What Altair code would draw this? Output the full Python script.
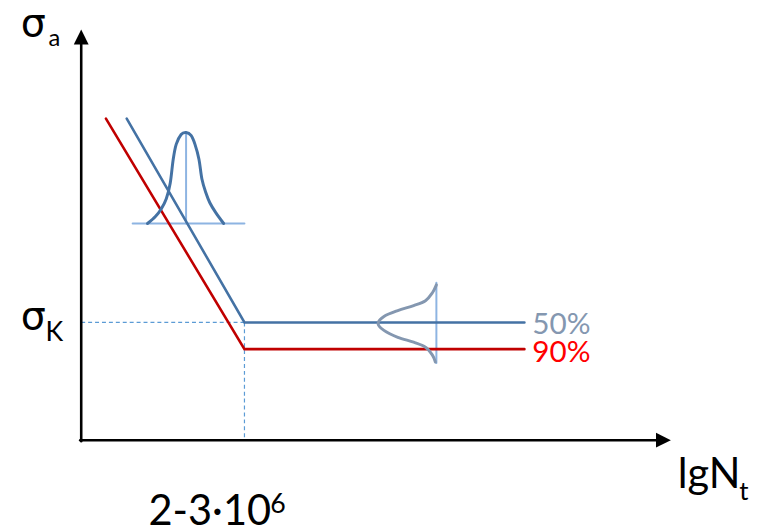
import altair as alt
import pandas as pd

# Schematic S-N (Wöhler) curve; coordinates in schematic units (origin at the axes' corner)
blue_x = [46, 165, 448]
blue_y = [325, 119, 119]
red_x = [25, 165, 448]
red_y = [325, 92, 92]

# fatigue-limit guides
guide_h_x = [0, 165]
guide_h_y = [119, 119]
guide_v_x = [165, 165]
guide_v_y = [119, 0]

# distribution on the sloped part (bell pointing up)
d1_x = [67, 75, 81, 86, 90, 93, 96, 101, 106, 111, 115, 119, 122, 126, 130, 136, 144]
d1_y = [219, 226, 234, 244, 260, 284, 299, 309, 311, 308, 299, 284, 264, 250, 240, 230, 219]
d1_base_x = [52, 165]
d1_base_y = [219, 219]
d1_stem_x = [106, 106]
d1_stem_y = [219, 311]

# distribution on the horizontal part (bell pointing left)
d2_x = [359, 355, 348, 336, 320, 306, 300, 306, 320, 336, 348, 355, 358]
d2_y = [157, 149, 141, 136, 131, 125, 118, 111, 104, 99, 94, 86, 79]
d2_stem_x = [359, 359]
d2_stem_y = [159, 78]

# axes
yaxis_x = [0, 0]
yaxis_y = [-1, 400]
xaxis_x = [-1, 581]
xaxis_y = [0, 0]

FONT = "Lato"
GREEK = "DejaVu Sans"

xs = alt.Scale(domain=[-74, 677], nice=False, zero=False)
ys = alt.Scale(domain=[-90, 434], nice=False, zero=False)


def seg(xv, yv, color, width, dash=None, interp="linear"):
    df = pd.DataFrame({"x": xv, "y": yv, "o": list(range(len(xv)))})
    kw = dict(color=color, strokeWidth=width, interpolate=interp, strokeCap="round")
    if dash:
        kw["strokeDash"] = dash
        kw["strokeCap"] = "butt"
    return alt.Chart(df).mark_line(**kw).encode(
        x=alt.X("x:Q", scale=xs, axis=None),
        y=alt.Y("y:Q", scale=ys, axis=None),
        order="o:Q",
    )


def txt(label, xv, yv, size, color="black", font=FONT):
    df = pd.DataFrame({"x": [xv], "y": [yv], "t": [label]})
    return alt.Chart(df).mark_text(
        align="left", baseline="alphabetic", fontSize=size, font=font, color=color
    ).encode(
        x=alt.X("x:Q", scale=xs, axis=None),
        y=alt.Y("y:Q", scale=ys, axis=None),
        text="t:N",
    )


def arrow(xv, yv, shape):
    df = pd.DataFrame({"x": [xv], "y": [yv]})
    return alt.Chart(df).mark_point(
        shape=shape, size=225, filled=True, color="black", opacity=1, strokeWidth=0
    ).encode(
        x=alt.X("x:Q", scale=xs, axis=None),
        y=alt.Y("y:Q", scale=ys, axis=None),
    )


layers = [
    seg(guide_h_x, guide_h_y, "#5b9bd5", 1.2, dash=[4, 3]),
    seg(guide_v_x, guide_v_y, "#5b9bd5", 1.2, dash=[4, 3]),
    seg(d1_base_x, d1_base_y, "#8db4e2", 2),
    seg(d1_stem_x, d1_stem_y, "#8db4e2", 2),
    seg(d2_stem_x, d2_stem_y, "#8db4e2", 2),
    seg(blue_x, blue_y, "#4472a4", 2.6),
    seg(red_x, red_y, "#c00000", 2.6),
    seg(d1_x, d1_y, "#4472a4", 3, interp="cardinal"),
    seg(d2_x, d2_y, "#8497b0", 3, interp="cardinal"),
    seg(yaxis_x, yaxis_y, "black", 2.6),
    seg(xaxis_x, xaxis_y, "black", 2.6),
    arrow(0, 407.5, "M0,-1L1,1L-1,1Z"),
    arrow(588.5, 0, "M1,0L-1,-1L-1,1Z"),
    txt("σ", -61, 409, 40, font=GREEK),
    txt("a", -33, 398, 24),
    txt("σ", -61, 112, 40, font=GREEK),
    txt("K", -36, 100, 27),
    txt("2-3·10", 68, -86, 42),
    txt("6", 191, -74, 27),
    txt("lgN", 603, -48, 42),
    txt("t", 665, -60, 26),
    txt("50%", 456, 107, 30, "#8497b0"),
    txt("90%", 456, 79, 30, "#ff0000"),
]

chart = alt.layer(*layers).properties(
    width=751, height=524, padding=0, autosize=alt.AutoSizeParams(type="none")
).configure_view(stroke=None)

chart.save("out.html", embed_options={"renderer": "svg", "actions": False})
